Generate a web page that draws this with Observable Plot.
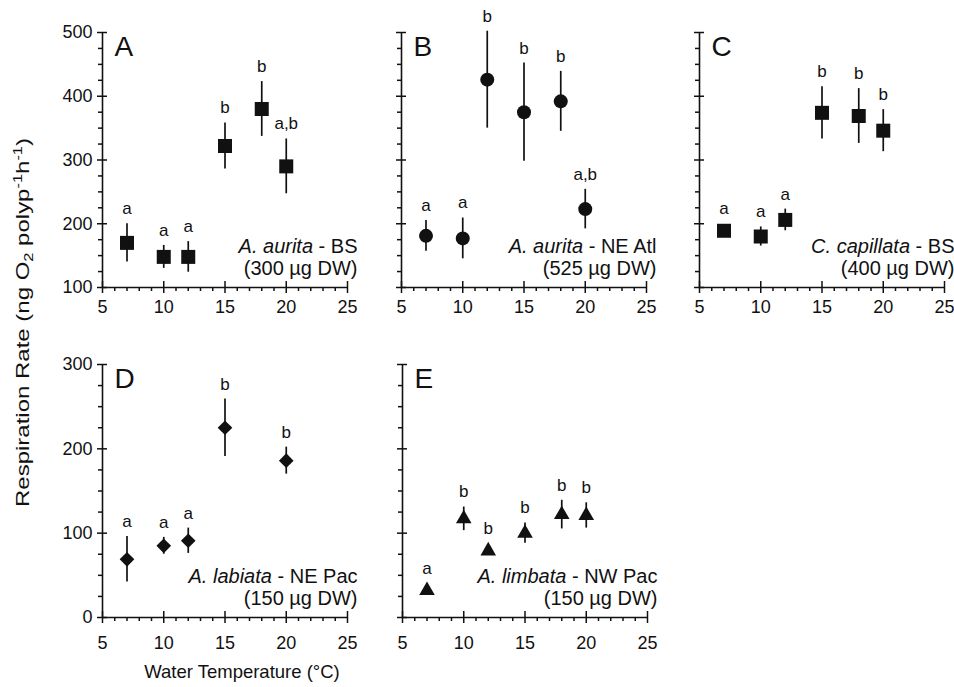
<!DOCTYPE html>
<html>
<head>
<meta charset="utf-8">
<script src="https://cdn.jsdelivr.net/npm/d3@7"></script>
<script src="https://cdn.jsdelivr.net/npm/@observablehq/plot@0.6"></script>
<style>
  body { margin: 0; background: #fff; }
  #chart { position: relative; width: 954px; height: 687px; font-family: "Liberation Sans", Arial, Helvetica, sans-serif; }
  #chart svg { position: absolute; }
</style>
</head>
<body>
<div id="chart"></div>
<script>
// ---------------- DATA ----------------
const tempsA = [7, 10, 12, 15, 18, 20];
const meanA  = [170, 148, 148, 322, 380, 290];
const errA   = [30, 18, 24, 36, 43, 43];
const sigA   = ["a", "a", "a", "b", "b", "a,b"];

const tempsB = [7, 10, 12, 15, 18, 20];
const meanB  = [181, 177, 426, 375, 392, 223];
const errB   = [24, 32, 76, 77, 47, 31];
const sigB   = ["a", "a", "b", "b", "b", "a,b"];

const tempsC = [7, 10, 12, 15, 18, 20];
const meanC  = [189, 180, 206, 374, 369, 346];
const errC   = [5, 15, 17, 41, 43, 33];
const sigC   = ["a", "a", "a", "b", "b", "b"];

const tempsD = [7, 10, 12, 15, 20];
const meanD  = [69, 85, 91, 225, 186];
const errD   = [27, 10, 15, 34, 16];
const sigD   = ["a", "a", "a", "b", "b"];

const tempsE = [7, 10, 12, 15, 18, 20];
const meanE  = [32, 117, 79, 100, 122, 121];
const errE   = [3, 14, 4, 12, 17, 15];
const sigE   = ["a", "b", "b", "b", "b", "b"];

const panelLetters = ["A", "B", "C", "D", "E"];
const speciesNames = ["A. aurita", "A. aurita", "C. capillata", "A. labiata", "A. limbata"];
const regionNames  = [" - BS", " - NE Atl", " - BS", " - NE Pac", " - NW Pac"];
const massLabels   = ["(300 µg DW)", "(525 µg DW)", "(400 µg DW)", "(150 µg DW)", "(150 µg DW)"];

const xMajor = [5, 10, 15, 20, 25];
const yMajorTop = [100, 200, 300, 400, 500];
const yMajorBottom = [0, 100, 200, 300];

const xTitle = "Water Temperature (°C)";

// ---------------- LAYOUT ----------------
const FONT = '"Liberation Sans", Arial, Helvetica, sans-serif';
const ML = 45, MR = 15, MT = 32, MB = 35, FW = 245;

const xMinor = d3.range(5, 26).filter(v => v % 5 !== 0);
const minorOf = (lo, hi) => d3.range(lo, hi + 1, 25).filter(v => v % 100 !== 0);

const panels = [
  {i: 0, left: 57,  top: 0,   frameH: 255, yDomain: [100, 500], yMajor: yMajorTop, showY: true,  temps: tempsA, mean: meanA, err: errA, sig: sigA, symbol: "square",   r: 7.9, xPad: 7},
  {i: 1, left: 356, top: 0,   frameH: 255, yDomain: [100, 500], yMajor: yMajorTop, showY: false, temps: tempsB, mean: meanB, err: errB, sig: sigB, symbol: "circle",   r: 7,   xPad: 7},
  {i: 2, left: 654, top: 0,   frameH: 255, yDomain: [100, 500], yMajor: yMajorTop, showY: false, temps: tempsC, mean: meanC, err: errC, sig: sigC, symbol: "square",   r: 7.9, xPad: 7},
  {i: 3, left: 57,  top: 332, frameH: 253, yDomain: [0, 300],   yMajor: yMajorBottom, showY: true,  temps: tempsD, mean: meanD, err: errD, sig: sigD, symbol: "diamond2", r: 6.6, xPad: 13},
  {i: 4, left: 357, top: 332, frameH: 253, yDomain: [0, 300],   yMajor: yMajorBottom, showY: false, temps: tempsE, mean: meanE, err: errE, sig: sigE, symbol: "triangle", r: 5.8, xPad: 13}
];

const chart = document.getElementById("chart");

for (const p of panels) {
  const span = p.yDomain[1] - p.yDomain[0];
  const unitsPerPx = span / p.frameH;
  const rows = p.temps.map((t, j) => ({
    t, m: p.mean[j], e: p.err[j], sig: p.sig[j],
    lo: p.mean[j] - p.err[j], hi: p.mean[j] + p.err[j],
    anchor: Math.max(p.mean[j] + p.err[j], p.mean[j] + 7 * unitsPerPx)
  }));
  const line1 = speciesNames[p.i] + regionNames[p.i];

  const svg = Plot.plot({
    width: ML + FW + MR,
    height: MT + p.frameH + MB,
    marginLeft: ML, marginRight: MR, marginTop: MT, marginBottom: MB,
    style: {background: "transparent", fontFamily: FONT, fontSize: "18px", overflow: "visible", color: "#111"},
    x: {domain: [5, 25], label: null},
    y: {domain: p.yDomain, label: null},
    marks: [
      Plot.axisY({ticks: p.yMajor, anchor: "left", tickSize: 10, dx: 5, tickPadding: 5, strokeWidth: 1.5,
                  tickFormat: p.showY ? (d => String(d)) : (() => ""), fontSize: 18}),
      Plot.axisY({ticks: minorOf(p.yDomain[0], p.yDomain[1]), anchor: "left", tickSize: 4, strokeWidth: 1.5, tickFormat: () => ""}),
      Plot.axisX({ticks: xMajor, anchor: "bottom", tickSize: 12, dy: -6, tickPadding: p.xPad, strokeWidth: 1.5,
                  tickFormat: d => String(d), fontSize: 18}),
      Plot.axisX({ticks: xMinor, anchor: "bottom", tickSize: 4, strokeWidth: 1.5, tickFormat: () => ""}),
      Plot.ruleX([5], {stroke: "#111", strokeWidth: 1.6}),
      Plot.ruleY([p.yDomain[0]], {stroke: "#111", strokeWidth: 1.6}),
      Plot.ruleX(rows, {x: "t", y1: "lo", y2: "hi", stroke: "#111", strokeWidth: 1.7}),
      Plot.dot(rows, {x: "t", y: "m", symbol: p.symbol, r: p.r, fill: "#111", stroke: "none"}),
      Plot.text(rows, {x: "t", y: "anchor", text: "sig", dy: -15, fontSize: 17, fill: "#111"}),
      Plot.text([panelLetters[p.i]], {frameAnchor: "top-left", textAnchor: "start", lineAnchor: "bottom", dx: 12, dy: 23, fontSize: 28, fill: "#111"}),
      Plot.text([line1], {frameAnchor: "bottom-right", textAnchor: "end", lineAnchor: "bottom", dx: 10, dy: -35, fontSize: 20, fill: "#111"}),
      Plot.text([massLabels[p.i]], {frameAnchor: "bottom-right", textAnchor: "end", lineAnchor: "bottom", dx: 10, dy: -13, fontSize: 20, fill: "#111"})
    ]
  });

  // italicise the species name within the first label line
  svg.querySelectorAll("text").forEach(t => {
    if (t.textContent === line1) {
      t.textContent = "";
      const a = document.createElementNS("http://www.w3.org/2000/svg", "tspan");
      a.setAttribute("font-style", "italic");
      a.textContent = speciesNames[p.i];
      const b = document.createElementNS("http://www.w3.org/2000/svg", "tspan");
      b.textContent = regionNames[p.i];
      t.appendChild(a); t.appendChild(b);
    }
  });

  svg.style.left = p.left + "px";
  svg.style.top = p.top + "px";
  chart.appendChild(svg);
}

// ---------------- AXIS TITLES ----------------
const overlay = d3.create("svg")
  .attr("width", 954).attr("height", 687)
  .style("left", "0px").style("top", "0px")
  .style("pointer-events", "none")
  .style("font-family", FONT);

overlay.append("text")
  .attr("x", 242).attr("y", 678)
  .attr("text-anchor", "middle")
  .attr("font-size", 18.5)
  .attr("fill", "#111")
  .text(xTitle);

const yt = overlay.append("text")
  .attr("transform", "translate(29,322.5) rotate(-90)")
  .attr("text-anchor", "middle")
  .attr("font-size", 19)
  .attr("fill", "#111")
  .attr("textLength", 369)
  .attr("lengthAdjust", "spacingAndGlyphs");
yt.append("tspan").text("Respiration Rate (ng O");
yt.append("tspan").attr("font-size", 13).attr("dy", 4).text("2");
yt.append("tspan").attr("dy", -4).text(" polyp");
yt.append("tspan").attr("font-size", 13).attr("dy", -7).text("-1");
yt.append("tspan").attr("dy", 7).text("h");
yt.append("tspan").attr("font-size", 13).attr("dy", -7).text("-1");
yt.append("tspan").attr("dy", 7).text(")");

chart.appendChild(overlay.node());
</script>
</body>
</html>
